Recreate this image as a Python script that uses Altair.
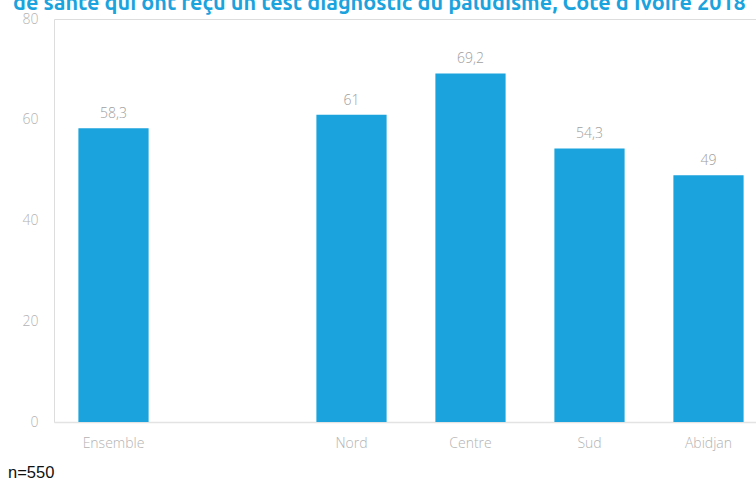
import altair as alt
import pandas as pd

categories = ["Ensemble", " ", "Nord", "Centre", "Sud", "Abidjan"]
bar_categories = ["Ensemble", "Nord", "Centre", "Sud", "Abidjan"]
values = [58.3, 61, 69.2, 54.3, 49]
title_text = "de santé qui ont reçu un test diagnostic du paludisme, Côte d'Ivoire 2018"
note_text = "n=550"

df = pd.DataFrame({
    "cat": bar_categories,
    "val": values,
    "lab": [f"{v:g}".replace(".", ",") for v in values],
})

BLUE = "#1BA3DD"
GREY = "#b3b3b3"

x = alt.X("cat:N", sort=categories,
          scale=alt.Scale(domain=categories, paddingInner=0.41, paddingOuter=0.205,
                          range=[0, 714]),
          axis=alt.Axis(title=None, labelAngle=0, ticks=False, domain=True,
                        domainColor="#e3e3e3", domainWidth=1.5, labelPadding=14,
                        labelFont="Open Sans", labelFontWeight=300, labelFontSize=14,
                        labelColor=GREY, grid=False))
y = alt.Y("val:Q", scale=alt.Scale(domain=[0, 80]),
          axis=alt.Axis(title=None, values=[0, 20, 40, 60, 80], ticks=False, domain=False,
                        grid=False, labelPadding=16, labelFont="Open Sans",
                        labelFontWeight=300, labelFontSize=14, labelColor=GREY))

base = alt.Chart(df)
bars = base.mark_bar(color=BLUE).encode(x=x, y=y)
labels = base.mark_text(dy=-14, font="Open Sans", fontWeight=300, fontSize=14,
                        color="#a0a0a0").encode(x=x, y=y, text="lab:N")

title = alt.Chart(pd.DataFrame({"t": [title_text]})).mark_text(
    align="left", baseline="alphabetic", font="Ubuntu, Open Sans", fontWeight="bold",
    fontSize=21.6, color=BLUE
).encode(x=alt.value(-41), y=alt.value(-9), text="t:N")

note = alt.Chart(pd.DataFrame({"t": [note_text]})).mark_text(
    align="left", baseline="middle", font="Liberation Sans", fontSize=16.5, color="#111111"
).encode(x=alt.value(-46), y=alt.value(454), text="t:N")

chart = alt.layer(bars, labels, title, note).properties(
    width=702, height=403,
    autosize=alt.AutoSizeParams(type="none"),
    padding={"left": 54, "top": 19, "right": 0, "bottom": 58},
).configure_view(stroke=None).configure(background="white")

chart.save("out.html", embed_options={"renderer": "svg", "actions": False})
